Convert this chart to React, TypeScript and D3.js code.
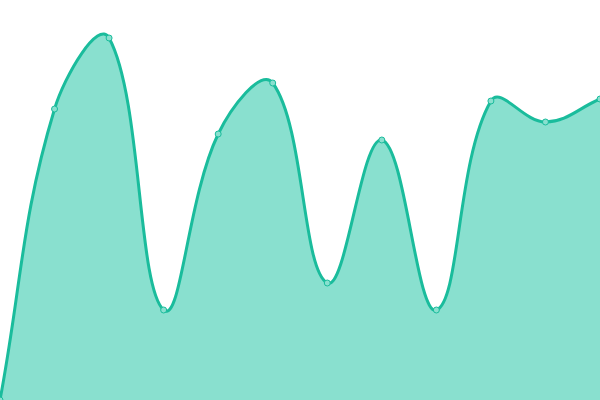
import { useEffect, useRef } from 'react'
import * as d3 from 'd3'

const W = 600, H = 400

// x index of each point and its value
const indices = [0, 1, 2, 3, 4, 5, 6, 7, 8, 9, 10, 11]
const values = [0, 291, 362, 90, 266, 317, 117, 260, 90, 299, 278, 301]

const LINE = '#1abc9c'
const FILL = '#89e0cf'

// distance-weighted bezier spline (tension 0.4), control points kept inside the plot
function splineCurve(tension: number, x0: number, y0: number, x1: number, y1: number) {
  return (context: any) => {
    let xs: number[] = [], ys: number[] = []
    let line = NaN
    const clampX = (v: number) => Math.max(x0, Math.min(x1, v))
    const clampY = (v: number) => Math.max(y0, Math.min(y1, v))
    return {
      areaStart() { line = 0 },
      areaEnd() { line = NaN },
      lineStart() { xs = []; ys = [] },
      point(x: number, y: number) { xs.push(+x); ys.push(+y) },
      lineEnd() {
        const n = xs.length
        if (n) {
          const cpPrev: [number, number][] = []
          const cpNext: [number, number][] = []
          for (let i = 0; i < n; i++) {
            const p = i > 0 ? i - 1 : i
            const q = Math.min(i + 1, n - 1)
            const d01 = Math.hypot(xs[i] - xs[p], ys[i] - ys[p])
            const d12 = Math.hypot(xs[q] - xs[i], ys[q] - ys[i])
            let s01 = d01 / (d01 + d12)
            let s12 = d12 / (d01 + d12)
            if (isNaN(s01)) s01 = 0
            if (isNaN(s12)) s12 = 0
            const fa = tension * s01, fb = tension * s12
            const dx = xs[q] - xs[p], dy = ys[q] - ys[p]
            cpPrev.push([clampX(xs[i] - fa * dx), clampY(ys[i] - fa * dy)])
            cpNext.push([clampX(xs[i] + fb * dx), clampY(ys[i] + fb * dy)])
          }
          if (line) context.lineTo(xs[0], ys[0])
          else context.moveTo(xs[0], ys[0])
          for (let i = 1; i < n; i++) {
            context.bezierCurveTo(cpNext[i - 1][0], cpNext[i - 1][1], cpPrev[i][0], cpPrev[i][1], xs[i], ys[i])
          }
        }
        if (line || (line !== 0 && n === 1)) context.closePath()
        line = 1 - line
      },
    }
  }
}

export default function App() {
  const svgRef = useRef<SVGSVGElement>(null)

  useEffect(() => {
    const svg = d3.select(svgRef.current!)
    svg.selectAll('*').remove()

    const x = d3.scaleLinear().domain([0, indices.length - 1]).range([0, W])
    const y = d3.scaleLinear().domain([0, 400]).range([H, 0])

    const curve = splineCurve(0.4, 0, 0, W, H) as any
    const area = d3.area<number>()
      .x((_, i) => x(indices[i])).y0(H).y1(v => y(v))
      .curve(curve)
    const line = d3.line<number>()
      .x((_, i) => x(indices[i])).y(v => y(v))
      .curve(curve)

    svg.append('path').datum(values).attr('fill', FILL).attr('d', area)
    svg.append('path').datum(values)
      .attr('fill', 'none').attr('stroke', LINE).attr('stroke-width', 3)
      .attr('d', line)

    svg.selectAll('circle').data(values).join('circle')
      .attr('cx', (_, i) => x(indices[i])).attr('cy', v => y(v))
      .attr('r', 3).attr('fill', FILL).attr('stroke', LINE).attr('stroke-width', 1)
  }, [])

  return (
    <svg ref={svgRef} width={W} height={H}
      style={{ position: 'absolute', left: 0, top: 0, overflow: 'visible' }} />
  )
}
